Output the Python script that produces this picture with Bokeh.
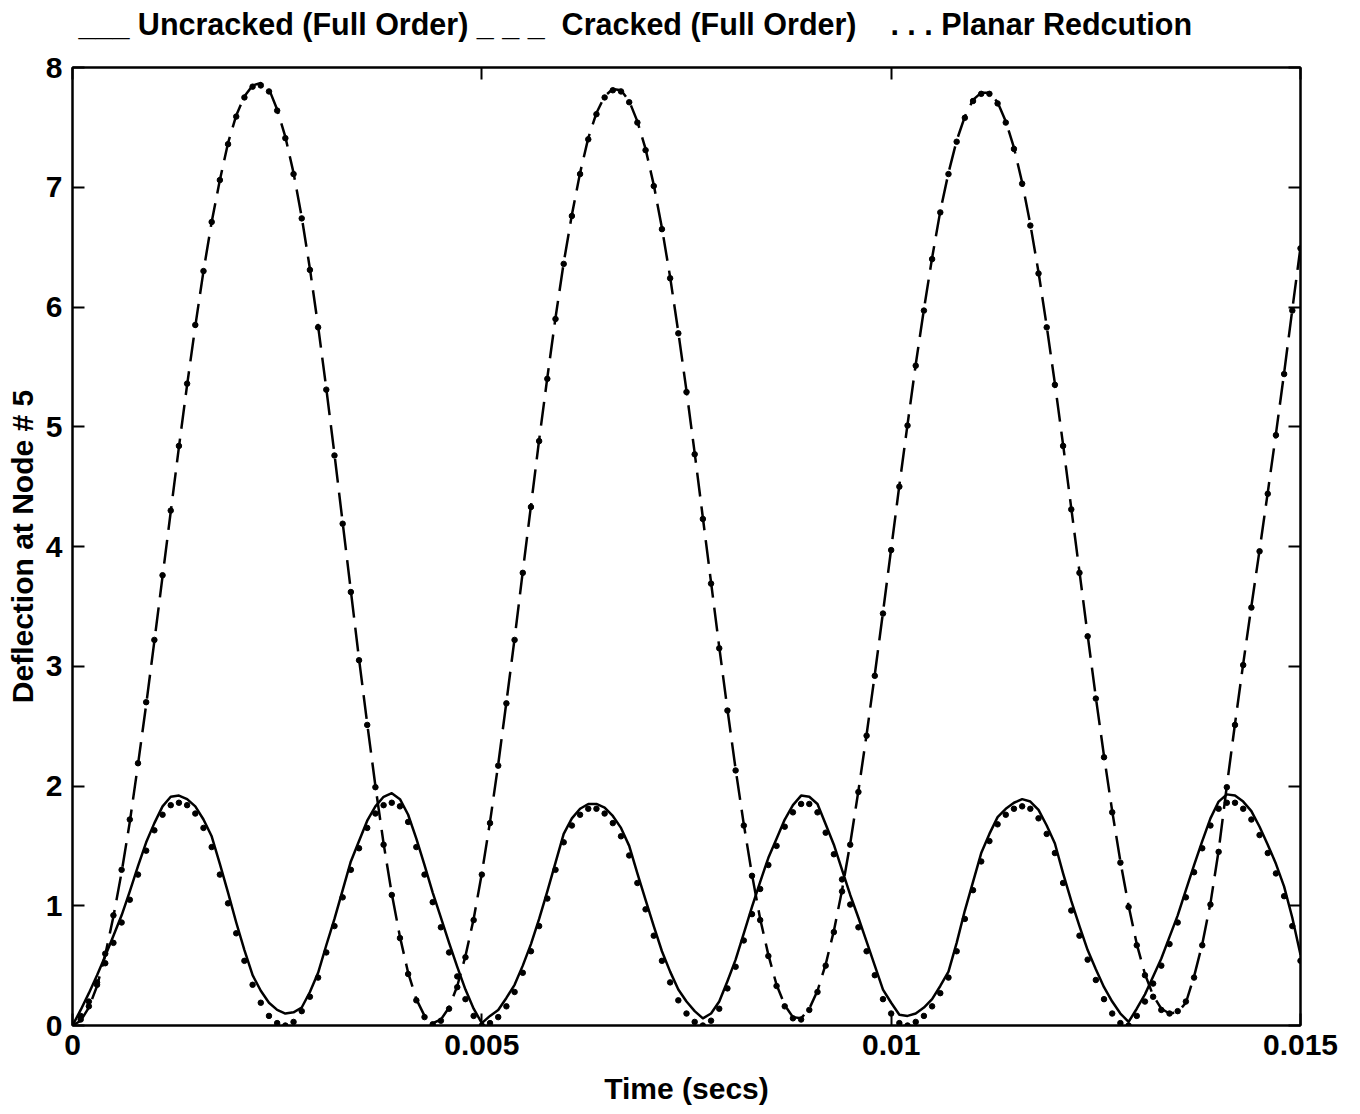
from bokeh.plotting import figure
from bokeh.models import Range1d, LinearAxis, FixedTicker, ColumnDataSource
from bokeh.embed import file_html
from bokeh.resources import INLINE

# time samples in milliseconds
time_ms = [
    0.0, 0.1, 0.2, 0.3, 0.4, 0.5, 0.6, 0.7, 0.8, 0.9,
    1.0, 1.1, 1.2, 1.3, 1.4, 1.5, 1.6, 1.7, 1.8, 1.9,
    2.0, 2.1, 2.2, 2.3, 2.4, 2.5, 2.6, 2.7, 2.8, 2.9,
    3.0, 3.1, 3.2, 3.3, 3.4, 3.5, 3.6, 3.7, 3.8, 3.9,
    4.0, 4.1, 4.2, 4.3, 4.4, 4.5, 4.6, 4.7, 4.8, 4.9,
    5.0, 5.1, 5.2, 5.3, 5.4, 5.5, 5.6, 5.7, 5.8, 5.9,
    6.0, 6.1, 6.2, 6.3, 6.4, 6.5, 6.6, 6.7, 6.8, 6.9,
    7.0, 7.1, 7.2, 7.3, 7.4, 7.5, 7.6, 7.7, 7.8, 7.9,
    8.0, 8.1, 8.2, 8.3, 8.4, 8.5, 8.6, 8.7, 8.8, 8.9,
    9.0, 9.1, 9.2, 9.3, 9.4, 9.5, 9.6, 9.7, 9.8, 9.9,
    10.0, 10.1, 10.2, 10.3, 10.4, 10.5, 10.6, 10.7, 10.8, 10.9,
    11.0, 11.1, 11.2, 11.3, 11.4, 11.5, 11.6, 11.7, 11.8, 11.9,
    12.0, 12.1, 12.2, 12.3, 12.4, 12.5, 12.6, 12.7, 12.8, 12.9,
    13.0, 13.1, 13.2, 13.3, 13.4, 13.5, 13.6, 13.7, 13.8, 13.9,
    14.0, 14.1, 14.2, 14.3, 14.4, 14.5, 14.6, 14.7, 14.8, 14.9,
    15.0,
]

uncracked_full = [
    0.00, 0.13, 0.27, 0.42, 0.58, 0.75, 0.92, 1.12, 1.33, 1.53,
    1.69, 1.83, 1.91, 1.92, 1.89, 1.83, 1.72, 1.58, 1.35, 1.11,
    0.86, 0.63, 0.42, 0.29, 0.19, 0.13, 0.10, 0.11, 0.15, 0.28,
    0.44, 0.67, 0.89, 1.13, 1.37, 1.54, 1.71, 1.83, 1.91, 1.94,
    1.89, 1.76, 1.56, 1.34, 1.11, 0.90, 0.69, 0.49, 0.30, 0.14,
    0.02, 0.08, 0.13, 0.23, 0.34, 0.50, 0.68, 0.89, 1.12, 1.36,
    1.60, 1.73, 1.81, 1.85, 1.85, 1.82, 1.75, 1.65, 1.50, 1.27,
    1.05, 0.83, 0.62, 0.45, 0.30, 0.20, 0.12, 0.06, 0.10, 0.20,
    0.37, 0.55, 0.77, 0.99, 1.20, 1.40, 1.56, 1.72, 1.84, 1.92,
    1.91, 1.85, 1.68, 1.51, 1.30, 1.09, 0.90, 0.70, 0.50, 0.30,
    0.19, 0.09, 0.08, 0.10, 0.15, 0.22, 0.33, 0.45, 0.69, 0.96,
    1.20, 1.44, 1.60, 1.74, 1.81, 1.86, 1.89, 1.87, 1.80, 1.67,
    1.52, 1.27, 1.04, 0.83, 0.63, 0.47, 0.32, 0.20, 0.10, 0.03,
    0.14, 0.26, 0.41, 0.56, 0.74, 0.92, 1.13, 1.34, 1.54, 1.73,
    1.87, 1.93, 1.92, 1.87, 1.79, 1.66, 1.51, 1.35, 1.16, 0.90,
    0.59,
]

cracked_full = [
    0.00, 0.04, 0.15, 0.33, 0.59, 0.91, 1.28, 1.70, 2.18, 2.68,
    3.21, 3.75, 4.29, 4.83, 5.35, 5.84, 6.30, 6.71, 7.06, 7.37,
    7.60, 7.76, 7.85, 7.87, 7.82, 7.65, 7.42, 7.12, 6.75, 6.32,
    5.84, 5.32, 4.77, 4.20, 3.63, 3.06, 2.52, 2.00, 1.52, 1.10,
    0.74, 0.44, 0.22, 0.08, 0.02, 0.05, 0.15, 0.33, 0.58, 0.89,
    1.27, 1.70, 2.18, 2.70, 3.23, 3.79, 4.34, 4.89, 5.41, 5.91,
    6.37, 6.77, 7.12, 7.41, 7.62, 7.76, 7.82, 7.81, 7.72, 7.55,
    7.32, 7.02, 6.66, 6.25, 5.79, 5.30, 4.78, 4.24, 3.70, 3.16,
    2.64, 2.14, 1.68, 1.26, 0.89, 0.59, 0.34, 0.17, 0.07, 0.06,
    0.14, 0.29, 0.51, 0.79, 1.13, 1.52, 1.96, 2.43, 2.93, 3.45,
    3.98, 4.51, 5.02, 5.52, 5.98, 6.41, 6.80, 7.12, 7.39, 7.59,
    7.73, 7.79, 7.79, 7.71, 7.55, 7.33, 7.04, 6.69, 6.29, 5.84,
    5.36, 4.85, 4.32, 3.79, 3.26, 2.74, 2.25, 1.79, 1.37, 1.00,
    0.68, 0.43, 0.25, 0.14, 0.10, 0.11, 0.19, 0.41, 0.68, 1.02,
    1.46, 2.00, 2.52, 3.02, 3.50, 3.97, 4.45, 4.94, 5.45, 5.98,
    6.50,
]

planar_uncracked = [
    0.00, 0.08, 0.20, 0.36, 0.52, 0.69, 0.86, 1.05, 1.26, 1.46,
    1.63, 1.76, 1.84, 1.86, 1.84, 1.77, 1.65, 1.49, 1.26, 1.02,
    0.77, 0.54, 0.34, 0.19, 0.08, 0.02, 0.00, 0.03, 0.12, 0.24,
    0.40, 0.61, 0.83, 1.07, 1.30, 1.48, 1.65, 1.77, 1.84, 1.86,
    1.83, 1.70, 1.49, 1.26, 1.03, 0.82, 0.61, 0.41, 0.22, 0.08,
    0.00, 0.02, 0.07, 0.16, 0.28, 0.44, 0.62, 0.83, 1.06, 1.30,
    1.53, 1.67, 1.76, 1.81, 1.81, 1.77, 1.69, 1.58, 1.42, 1.19,
    0.97, 0.75, 0.54, 0.36, 0.21, 0.10, 0.03, 0.00, 0.04, 0.14,
    0.31, 0.49, 0.71, 0.93, 1.14, 1.34, 1.50, 1.66, 1.78, 1.85,
    1.85, 1.78, 1.61, 1.43, 1.22, 1.01, 0.82, 0.62, 0.42, 0.22,
    0.10, 0.02, 0.00, 0.03, 0.08, 0.16, 0.27, 0.40, 0.62, 0.89,
    1.13, 1.37, 1.54, 1.68, 1.76, 1.81, 1.83, 1.81, 1.73, 1.60,
    1.44, 1.19, 0.96, 0.75, 0.55, 0.38, 0.22, 0.10, 0.02, 0.00,
    0.08, 0.20, 0.35, 0.50, 0.68, 0.86, 1.07, 1.28, 1.48, 1.67,
    1.81, 1.86, 1.86, 1.81, 1.72, 1.59, 1.44, 1.27, 1.08, 0.83,
    0.54,
]

planar_cracked = [
    0.00, 0.05, 0.16, 0.34, 0.60, 0.92, 1.30, 1.72, 2.19, 2.70,
    3.22, 3.76, 4.30, 4.84, 5.36, 5.85, 6.30, 6.71, 7.06, 7.36,
    7.59, 7.75, 7.84, 7.85, 7.80, 7.64, 7.41, 7.11, 6.74, 6.31,
    5.83, 5.31, 4.76, 4.19, 3.62, 3.05, 2.51, 1.99, 1.51, 1.09,
    0.73, 0.43, 0.21, 0.07, 0.01, 0.04, 0.14, 0.32, 0.57, 0.88,
    1.26, 1.69, 2.17, 2.69, 3.22, 3.78, 4.33, 4.88, 5.40, 5.90,
    6.36, 6.76, 7.11, 7.40, 7.61, 7.75, 7.81, 7.80, 7.71, 7.54,
    7.31, 7.01, 6.65, 6.24, 5.78, 5.29, 4.77, 4.23, 3.69, 3.15,
    2.63, 2.13, 1.67, 1.25, 0.88, 0.58, 0.33, 0.16, 0.06, 0.05,
    0.13, 0.28, 0.50, 0.78, 1.12, 1.51, 1.95, 2.42, 2.92, 3.44,
    3.97, 4.50, 5.01, 5.51, 5.97, 6.40, 6.79, 7.11, 7.38, 7.58,
    7.72, 7.78, 7.78, 7.70, 7.54, 7.32, 7.03, 6.68, 6.28, 5.83,
    5.35, 4.84, 4.31, 3.78, 3.25, 2.73, 2.24, 1.78, 1.36, 0.99,
    0.67, 0.42, 0.24, 0.13, 0.10, 0.12, 0.20, 0.40, 0.67, 1.01,
    1.45, 1.99, 2.51, 3.01, 3.49, 3.96, 4.44, 4.93, 5.44, 5.97,
    6.49,
]

x_ticks = [0, 0.005, 0.01, 0.015]
x_tick_labels = ["0", "0.005", "0.01", "0.015"]
y_ticks = [0, 1, 2, 3, 4, 5, 6, 7, 8]

NB = "\u00a0"
legend_parts = ["___" + NB + "Uncracked (Full Order)",
                "_" + NB + "_" + NB + "_",
                "Cracked (Full Order)",
                "." + NB + "." + NB + "." + NB + "Planar Redcution"]
legend_line = (legend_parts[0] + NB + legend_parts[1] + NB * 2 + legend_parts[2]
               + NB * 4 + legend_parts[3])

FONT = "Liberation Sans"

time_s = [t / 1000.0 for t in time_ms]
src = ColumnDataSource(dict(t=time_s, unc=uncracked_full, cr=cracked_full,
                            pu=planar_uncracked, pc=planar_cracked))

p = figure(width=1360, height=1114, output_backend="svg", toolbar_location=None,
           x_range=Range1d(0, 0.015), y_range=Range1d(0, 8),
           min_border_left=72, min_border_right=60, min_border_top=67, min_border_bottom=89,
           background_fill_color="white", border_fill_color="white",
           title=legend_line)
p.grid.visible = False
p.outline_line_color = "black"
p.outline_line_width = 2

p.title.align = "left"
p.title.offset = 6
p.title.text_font = FONT
p.title.text_font_size = "30.5px"
p.title.text_font_style = "bold"
p.title.text_color = "black"
p.title.standoff = 0
p.title.vertical_align = "bottom"

p.line("t", "unc", source=src, line_color="black", line_width=2.5, line_join="round")
p.line("t", "cr", source=src, line_color="black", line_width=2.5, line_dash="24 10")
p.scatter("t", "pu", source=src, size=5.5, color="black")
p.scatter("t", "pc", source=src, size=5.5, color="black")

def style_axis(ax):
    ax.axis_line_color = "black"
    ax.axis_line_width = 2
    ax.major_tick_in = 12
    ax.major_tick_out = 0
    ax.major_tick_line_width = 2
    ax.minor_tick_line_color = None
    ax.major_label_text_font = FONT
    ax.major_label_text_font_size = "30px"
    ax.major_label_text_font_style = "bold"
    ax.major_label_text_color = "black"
    ax.axis_label_text_font = FONT
    ax.axis_label_text_font_size = "30px"
    ax.axis_label_text_font_style = "bold"
    ax.axis_label_text_color = "black"

xa = p.xaxis[0]
style_axis(xa)
xa.ticker = FixedTicker(ticks=x_ticks)
xa.major_label_overrides = {k: v for k, v in zip(x_ticks, x_tick_labels)}
xa.major_label_standoff = 9
xa.axis_label = "Time (secs)"
xa.axis_label_standoff = 14

ya = p.yaxis[0]
style_axis(ya)
ya.ticker = FixedTicker(ticks=y_ticks)
ya.major_label_standoff = 10
ya.axis_label = "Deflection at Node # 5"
ya.axis_label_standoff = 4

# top frame axis: ticks only; a blank spacer label lifts the legend line above it
top = LinearAxis(ticker=FixedTicker(ticks=x_ticks))
style_axis(top)
top.major_label_overrides = {k: "" for k in x_ticks}
top.major_label_standoff = 0
top.axis_label = NB
top.axis_label_text_font_size = "10px"
top.axis_label_standoff = 13
p.add_layout(top, "above")
right = LinearAxis(ticker=FixedTicker(ticks=y_ticks))
style_axis(right)
right.major_label_overrides = {k: "" for k in y_ticks}
right.major_label_standoff = 0
p.add_layout(right, "right")

open("out.html", "w").write(file_html(p, INLINE))
